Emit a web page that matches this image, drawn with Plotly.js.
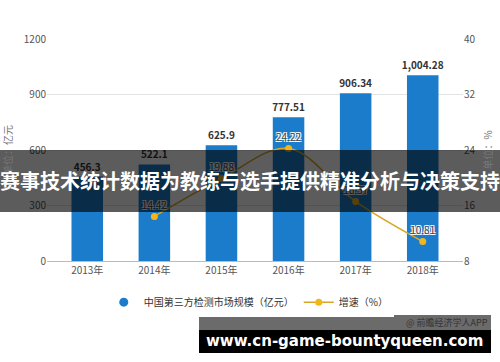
<!DOCTYPE html>
<html><head><meta charset="utf-8">
<script src="https://cdn.plot.ly/plotly-3.0.1.min.js"></script>
<style>html,body{margin:0;padding:0;background:#fff}#chart{width:500px;height:362px}</style>
</head><body><div id="chart"></div>
<script>
const years = ['2013年','2014年','2015年','2016年','2017年','2018年'];
const marketSize = [456.3, 522.1, 625.9, 777.51, 906.34, 1004.28];
const marketLabels = ['456.3','522.1','625.9','777.51','906.34','1,004.28'];
const growthYears = ['2014年','2015年','2016年','2017年','2018年'];
const growthRate = [14.42, 19.88, 24.22, 16.57, 10.81];
const leftTicks = [0, 300, 600, 900, 1200];
const rightTicks = [8, 16, 24, 32, 40];
const seriesNames = ['中国第三方检测市场规模（亿元）', '增速（%）'];
const bannerText = '赛事技术统计数据为教练与选手提供精准分析与决策支持';
const siteText = 'www.cn-game-bountyqueen.com';
const sourceText = '@ 前瞻经济学人APP';

const FONT = '"Microsoft YaHei","Noto Sans CJK SC",sans-serif';
const BLUE = '#1a7ccb';
const GOLD = '#f2b51c';

const traces = [
  {
    type: 'bar', x: years, y: marketSize, name: seriesNames[0],
    marker: {color: BLUE}, width: 0.47, showlegend: false,
    text: marketLabels, textposition: 'outside', cliponaxis: false,
    constraintext: 'none',
    textfont: {family: FONT, size: 10, color: '#333', weight: 'bold'},
    hoverinfo: 'x+y'
  },
  {
    type: 'scatter', mode: 'markers', x: [null], y: [null], name: seriesNames[0],
    marker: {color: BLUE, size: 9, symbol: 'circle'}, showlegend: true
  },
  {
    type: 'scatter', mode: 'lines+markers+text', x: growthYears, y: growthRate,
    name: seriesNames[1], yaxis: 'y2',
    line: {color: '#d9a526', width: 1.5, shape: 'spline', smoothing: 1},
    marker: {color: GOLD, size: 7},
    text: growthRate.map(v => v.toFixed(2)), textposition: 'top center',
    textfont: {family: FONT, size: 10, color: '#444',
      shadow: '1px 1px 0 #fff, -1px -1px 0 #fff, 1px -1px 0 #fff, -1px 1px 0 #fff'},
    cliponaxis: false
  }
];

const layout = {
  width: 500, height: 362,
  margin: {l: 47, r: 37, t: 39, b: 101},
  paper_bgcolor: '#fff', plot_bgcolor: '#fff',
  font: {family: FONT, size: 10, color: '#555'},
  showlegend: true,
  legend: {orientation: 'h', x: 0.485, xanchor: 'center', y: -0.12, yanchor: 'top',
    font: {family: FONT, size: 10, color: '#333'}, itemwidth: 30},
  xaxis: {type: 'category', range: [-0.6, 5.6], showgrid: false, zeroline: false,
    showline: true, linecolor: '#bbb', linewidth: 1, ticks: '',
    tickfont: {family: FONT, size: 10, color: '#555'}},
  yaxis: {range: [0, 1200], tickvals: leftTicks, showgrid: true, gridcolor: '#e3e3e3',
    zeroline: false, ticks: '', tickfont: {family: FONT, size: 10, color: '#555'},
    title: {text: '单位：亿元', standoff: 12, font: {family: FONT, size: 10, color: '#777'}}},
  yaxis2: {range: [8, 40], tickvals: rightTicks, overlaying: 'y', side: 'right',
    showgrid: false, zeroline: false, ticks: '',
    tickfont: {family: FONT, size: 10, color: '#555'},
    title: {text: '单位：%', standoff: 10, font: {family: FONT, size: 10, color: '#777'}}},
  shapes: [
    {type: 'rect', xref: 'paper', yref: 'paper', x0: -0.12, x1: 1.1, y0: 0.2207, y1: 0.5,
      fillcolor: 'rgba(0,0,0,0.64)', line: {width: 0}, layer: 'above'},
    {type: 'rect', xref: 'paper', yref: 'paper', x0: 0.3654, x1: 1.0673, y0: -0.3108, y1: -0.2432,
      fillcolor: 'rgba(0,0,0,0.58)', line: {width: 0}, layer: 'above'},
    {type: 'rect', xref: 'paper', yref: 'paper', x0: 0.3654, x1: 1.0673, y0: -0.4144, y1: -0.3108,
      fillcolor: '#000', line: {width: 0}, layer: 'above'}
  ],
  annotations: [
    {text: bannerText, xref: 'paper', yref: 'paper', x: 0.488, y: 0.3604,
      xanchor: 'center', yanchor: 'middle', showarrow: false,
      font: {family: '"Noto Sans CJK SC",sans-serif', size: 20, color: '#fff', weight: 'bold'}},
    {text: siteText, xref: 'paper', yref: 'paper', x: 0.716, y: -0.362,
      xanchor: 'center', yanchor: 'middle', showarrow: false,
      font: {family: '"DejaVu Sans",sans-serif', size: 15, color: '#fff', weight: 'bold'}},
    {text: sourceText, xref: 'paper', yref: 'paper', x: 1.066, y: -0.277,
      xanchor: 'right', yanchor: 'middle', showarrow: false,
      font: {family: FONT, size: 9, color: '#333'}}
  ]
};

Plotly.newPlot('chart', traces, layout, {displayModeBar: false, staticPlot: true});
</script></body></html>
